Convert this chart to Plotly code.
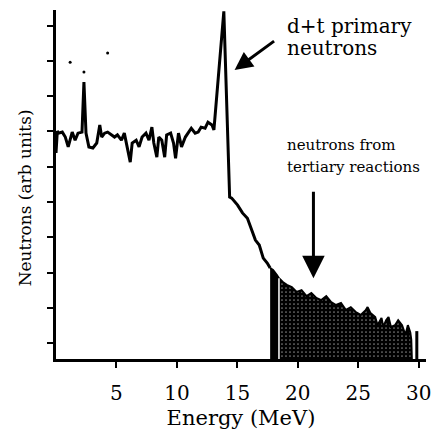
import plotly.graph_objects as go

# ---- data ----
main_e = [0.0, 0.11, 0.2, 0.52, 0.77, 1.01, 1.34, 1.58, 1.82, 2.15, 2.31, 2.48, 2.72, 3.05, 3.37,
          3.62, 3.78, 4.02, 4.27, 4.59, 4.84, 5.08, 5.41, 5.65, 5.90, 6.14, 6.30, 6.63, 6.87, 7.12,
          7.44, 7.69, 7.93, 8.09, 8.34, 8.50, 8.75, 8.99, 9.15, 9.48, 9.72, 9.89, 10.13, 10.38, 10.70,
          10.94, 11.19, 11.51, 11.76, 12.00, 12.33, 12.57, 12.90, 13.06, 13.88, 14.36, 14.53, 15.02,
          15.42, 15.83, 16.08, 16.49, 16.81, 17.14, 17.47, 17.71]
main_y = [5.84, 6.46, 6.40, 6.43, 6.29, 6.01, 6.43, 6.20, 6.40, 6.43, 7.85, 6.40, 6.01, 5.98, 6.12,
          6.63, 6.29, 6.40, 6.43, 6.35, 6.29, 6.35, 6.20, 6.40, 6.01, 5.58, 6.12, 6.20, 6.01, 6.29,
          6.40, 6.20, 6.57, 6.12, 5.72, 6.29, 6.20, 5.72, 6.35, 6.40, 6.12, 5.69, 6.40, 6.01, 6.29,
          6.43, 6.54, 6.40, 6.43, 6.57, 6.54, 6.71, 6.63, 6.49, 9.85, 4.59, 4.56, 4.36,
          4.14, 3.99, 3.74, 3.37, 3.23, 2.86, 2.72, 2.58]

dense_e = [17.71, 17.95, 18.27, 18.44]
dense_y = [2.58, 2.52, 2.38, 2.29]

tail_e = [18.44, 18.76, 19.09, 19.50, 19.90, 20.31, 20.72, 21.12, 21.53, 21.94, 22.35, 22.76,
          23.16, 23.57, 23.98, 24.38, 24.79, 25.20, 25.61, 25.77, 26.01, 26.40, 26.59, 26.92,
          27.07, 27.30, 27.50, 27.70, 28.05, 28.30, 28.62, 28.90, 29.10, 29.30, 29.38, 29.43]
tail_y = [2.29, 2.18, 2.10, 2.04, 1.90, 1.95, 1.78, 1.87, 1.73, 1.67, 1.78, 1.61,
          1.53, 1.59, 1.39, 1.47, 1.33, 1.25, 1.38, 1.47, 1.30, 1.19, 0.96, 1.16,
          0.91, 1.10, 1.19, 0.91, 0.96, 1.10, 0.96, 0.68, 0.96, 0.75, 0.55, 0.0]

lone_e = [29.84]
lone_y = [0.79]

speck_e = [2.31, 1.17, 4.27]
speck_y = [8.13, 8.41, 8.67]

x_ticks = [5, 10, 15, 20, 25, 30]
x_tick_labels = ["5", "10", "15", "20", "25", "30"]
y_ticks = [0.45, 1.45, 2.45, 3.45, 4.45, 5.45, 6.45, 7.45, 8.45, 9.45]

FONT = "DejaVu Serif"

fig = go.Figure()

fig.add_trace(go.Scatter(x=main_e, y=main_y, mode="lines",
                         line=dict(color="black", width=3), hoverinfo="skip"))
fig.add_trace(go.Scatter(x=dense_e, y=dense_y, mode="lines", fill="tozeroy",
                         fillcolor="black", line=dict(color="black", width=2), hoverinfo="skip"))
fig.add_trace(go.Scatter(x=tail_e, y=tail_y, mode="lines", fill="tozeroy",
                         fillpattern=dict(shape=".", bgcolor="black", fgcolor="white",
                                          size=4, solidity=0.15),
                         line=dict(color="black", width=2), hoverinfo="skip"))
fig.add_trace(go.Scatter(x=[tail_e[0], tail_e[0]], y=[0, tail_y[0]], mode="lines",
                         line=dict(color="white", width=1.5), hoverinfo="skip"))
fig.add_trace(go.Scatter(x=[lone_e[0], lone_e[0]], y=[0, lone_y[0]], mode="lines",
                         line=dict(color="black", width=3), hoverinfo="skip"))
fig.add_trace(go.Scatter(x=speck_e, y=speck_y, mode="markers",
                         marker=dict(color="black", size=3), hoverinfo="skip"))

annotations = [
    dict(x=14.77, y=8.19, xref="x", yref="y", ax=41, ay=-30, text="", showarrow=True,
         arrowhead=2, arrowsize=1.2, arrowwidth=3, arrowcolor="black"),
    dict(x=21.29, y=2.29, xref="x", yref="y", ax=0, ay=-88, text="", showarrow=True,
         arrowhead=2, arrowsize=1.5, arrowwidth=3, arrowcolor="black"),
    dict(x=0.619, y=0.953, xref="paper", yref="paper", xanchor="left", yanchor="middle",
         text="d+t primary", showarrow=False, font=dict(family=FONT, size=20, color="black")),
    dict(x=0.619, y=0.892, xref="paper", yref="paper", xanchor="left", yanchor="middle",
         text="neutrons", showarrow=False, font=dict(family=FONT, size=20, color="black")),
    dict(x=0.619, y=0.613, xref="paper", yref="paper", xanchor="left", yanchor="middle",
         text="neutrons from", showarrow=False, font=dict(family=FONT, size=15, color="black")),
    dict(x=0.619, y=0.550, xref="paper", yref="paper", xanchor="left", yanchor="middle",
         text="tertiary reactions", showarrow=False, font=dict(family=FONT, size=15, color="black")),
    dict(x=-0.085, y=0.462, xref="paper", yref="paper", xanchor="center", yanchor="middle",
         text="Neutrons (arb units)", textangle=-90, showarrow=False,
         font=dict(family=FONT, size=17, color="black")),
]

fig.update_layout(
    width=437, height=434,
    margin=dict(l=56, r=6, t=10, b=75),
    paper_bgcolor="white", plot_bgcolor="white",
    showlegend=False,
    annotations=annotations,
    xaxis=dict(range=[0, 30.6], tickvals=x_ticks, ticktext=x_tick_labels,
               ticks="outside", ticklen=6, tickwidth=2, tickcolor="black",
               showline=True, linewidth=3, linecolor="black",
               showgrid=False, zeroline=False, ticklabelstandoff=8,
               tickfont=dict(family=FONT, size=20, color="black"),
               title=dict(text="Energy (MeV)", standoff=7,
                          font=dict(family=FONT, size=21, color="black"))),
    yaxis=dict(range=[0, 9.89], tickvals=y_ticks, showticklabels=False,
               ticks="outside", ticklen=6, tickwidth=2, tickcolor="black",
               showline=True, linewidth=3, linecolor="black",
               showgrid=False, zeroline=False),
)

fig.write_html("out.html", config={"displayModeBar": False},
               post_script="document.body.style.margin='0';document.body.style.overflow='hidden';")
